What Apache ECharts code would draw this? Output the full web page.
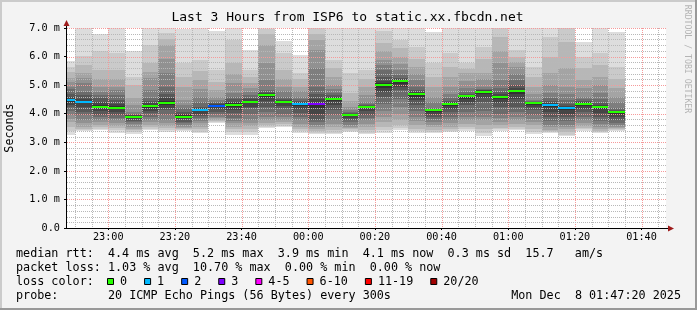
<!DOCTYPE html>
<html><head><meta charset="utf-8">
<script src="https://cdn.jsdelivr.net/npm/echarts@6/dist/echarts.min.js"></script>
<style>html,body{margin:0;padding:0;background:#f3f3f3}#c{width:697px;height:310px}</style>
</head><body><div id="c"></div>
<script>
// x values are minutes relative to 00:00 (Dec 8); each column is a 5-minute step starting at colStart
const colStart = [-75,-70,-65,-60,-55,-50,-45,-40,-35,-30,-25,-20,-15,-10,-5,0,5,10,15,20,25,30,35,40,45,50,55,60,65,70,75,80,85,90];
const medianRtt = [4.47,4.42,4.25,4.21,3.90,4.28,4.39,3.90,4.14,4.28,4.32,4.42,4.66,4.42,4.34,4.34,4.53,3.97,4.25,5.01,5.16,4.69,4.12,4.34,4.62,4.77,4.59,4.81,4.39,4.31,4.20,4.34,4.24,4.05];
const lossLevel = [1,1,0,0,0,0,0,0,1,2,0,0,0,0,1,3,0,0,0,0,0,0,0,0,0,0,0,0,0,1,1,0,0,0];
// 20 sorted ping rtts (ms) per column
const pings = [
 [3.26,3.4,3.55,3.7,3.8,3.95,4.1,4.22,4.3,4.4,4.52,4.6,4.7,4.85,4.95,5.1,5.24,5.45,5.65,5.85],
 [3.38,3.43,3.48,3.55,3.66,3.78,3.95,4.07,4.25,4.36,4.46,4.53,4.65,4.77,5.06,5.24,5.41,5.7,6.02,7.0],
 [3.43,3.48,3.55,3.62,3.7,3.78,3.87,3.95,4.1,4.2,4.3,4.4,4.54,4.65,4.77,4.95,5.2,5.53,6.2,6.8],
 [3.34,3.42,3.5,3.58,3.68,3.78,3.86,3.95,4.05,4.15,4.26,4.35,4.48,4.65,4.83,4.95,5.2,5.53,6.11,7.0],
 [3.29,3.35,3.42,3.48,3.55,3.63,3.72,3.76,3.82,3.87,3.92,3.94,3.96,4.0,4.07,4.3,4.54,5.0,5.3,6.2],
 [3.43,3.48,3.55,3.62,3.7,3.78,3.9,4.01,4.1,4.2,4.31,4.38,4.45,4.54,4.83,5.24,5.45,5.76,6.4,7.0],
 [3.37,3.42,3.5,3.58,3.68,3.78,3.95,4.13,4.2,4.3,4.45,4.55,4.7,4.95,5.41,5.9,6.4,6.6,6.81,7.0],
 [3.4,3.43,3.46,3.5,3.55,3.6,3.66,3.72,3.8,3.86,3.94,3.98,4.05,4.19,4.3,4.48,4.95,5.3,5.76,6.97],
 [3.31,3.37,3.45,3.55,3.66,3.75,3.84,3.92,4.0,4.08,4.16,4.2,4.25,4.4,4.6,4.85,5.18,5.5,5.88,7.0],
 [3.69,3.71,3.74,3.78,3.84,3.9,4.0,4.07,4.15,4.22,4.3,4.33,4.36,4.4,4.48,4.6,4.83,5.1,5.53,6.9],
 [3.26,3.35,3.45,3.55,3.66,3.75,3.85,4.01,4.12,4.25,4.36,4.42,4.5,4.6,4.71,5.06,5.4,5.76,6.58,7.0],
 [3.26,3.37,3.48,3.58,3.68,3.78,4.0,4.19,4.25,4.36,4.46,4.5,4.56,4.65,4.77,4.9,5.06,5.3,5.53,6.23],
 [3.49,3.53,3.6,3.68,3.78,3.9,4.05,4.25,4.45,4.6,4.69,4.72,4.76,4.83,5.18,5.76,6.4,6.8,6.95,7.0],
 [3.55,3.58,3.64,3.7,3.78,3.88,4.0,4.19,4.28,4.36,4.45,4.48,4.53,4.6,4.78,4.95,5.2,5.53,6.11,6.55],
 [3.34,3.39,3.46,3.55,3.65,3.78,3.9,4.01,4.15,4.28,4.37,4.4,4.44,4.5,4.6,4.78,4.95,5.2,5.41,6.05],
 [3.29,3.32,3.38,3.45,3.55,3.62,3.7,3.78,4.0,4.2,4.38,4.5,4.7,4.95,5.6,6.23,6.58,6.8,7.0,7.0],
 [3.29,3.34,3.42,3.52,3.65,3.78,3.95,4.13,4.3,4.45,4.56,4.6,4.64,4.72,4.85,5.0,5.3,5.6,5.88,7.0],
 [3.37,3.41,3.45,3.5,3.55,3.62,3.72,3.78,3.85,3.93,3.99,4.0,4.02,4.05,4.12,4.25,4.45,4.71,5.41,7.0],
 [3.29,3.34,3.42,3.52,3.65,3.78,3.86,3.95,4.08,4.19,4.27,4.28,4.3,4.34,4.42,4.65,4.95,5.2,5.53,7.0],
 [3.31,3.42,3.55,3.7,3.9,4.1,4.35,4.6,4.75,4.9,5.06,5.15,5.3,5.53,5.7,5.88,6.2,6.46,6.9,7.0],
 [3.43,3.5,3.6,3.78,4.0,4.25,4.5,4.83,4.95,5.05,5.18,5.2,5.25,5.35,5.53,5.75,6.0,6.3,6.58,7.0],
 [3.34,3.4,3.48,3.6,3.75,3.9,4.1,4.3,4.48,4.6,4.72,4.77,4.82,4.95,5.18,5.4,5.65,5.9,6.35,7.0],
 [3.31,3.36,3.43,3.52,3.62,3.72,3.81,3.9,3.98,4.06,4.14,4.15,4.16,4.19,4.4,4.6,4.95,5.3,5.76,6.85],
 [3.37,3.41,3.47,3.55,3.66,3.78,3.9,4.07,4.18,4.28,4.37,4.4,4.45,4.55,4.7,4.95,5.3,5.65,6.11,7.0],
 [3.41,3.46,3.55,3.65,3.78,3.9,4.05,4.3,4.4,4.52,4.65,4.67,4.7,4.75,4.89,5.15,5.41,5.55,5.76,7.0],
 [3.22,3.32,3.45,3.6,3.78,3.9,4.1,4.42,4.55,4.68,4.8,4.82,4.84,4.88,4.95,5.2,5.41,5.9,6.35,7.0],
 [3.41,3.45,3.5,3.6,3.72,3.85,4.0,4.25,4.38,4.5,4.63,4.68,4.75,4.9,5.18,5.76,6.2,6.7,7.0,7.0],
 [3.43,3.48,3.55,3.65,3.78,3.9,4.05,4.25,4.5,4.7,4.84,4.9,5.0,5.18,5.4,5.65,5.8,6.0,6.23,7.0],
 [3.29,3.37,3.48,3.6,3.72,3.83,3.95,4.13,4.22,4.3,4.4,4.41,4.42,4.44,4.48,4.7,4.95,5.3,5.65,7.0],
 [3.34,3.36,3.39,3.43,3.52,3.62,3.75,3.9,4.05,4.22,4.35,4.39,4.45,4.55,4.71,5.0,5.41,6.0,6.7,7.0],
 [3.22,3.27,3.35,3.45,3.55,3.62,3.75,3.9,4.0,4.12,4.24,4.28,4.35,4.48,4.7,4.95,5.6,6.5,7.0,7.0],
 [3.41,3.45,3.5,3.56,3.66,3.78,3.9,4.07,4.17,4.27,4.37,4.4,4.44,4.5,4.6,4.9,5.18,5.6,6.0,6.51],
 [3.34,3.36,3.4,3.46,3.55,3.63,3.75,3.9,4.02,4.15,4.27,4.31,4.38,4.5,4.71,5.0,5.3,5.7,6.11,7.0],
 [3.4,3.43,3.46,3.5,3.55,3.6,3.68,3.78,3.88,3.98,4.07,4.09,4.12,4.19,4.4,4.6,4.9,5.2,5.65,6.87]
];
const smokeGrays = ['#dddddd','#cacaca','#b7b7b7','#a4a4a4','#919191','#7e7e7e','#6b6b6b','#585858','#454545','#323232'];
const lossLabels = ['0','1','2','3','4-5','6-10','11-19','20/20'];
const lossColors = ['#26ff00','#00b8ff','#0059ff','#7e00ff','#ff00ff','#ff5500','#ff0000','#a10000'];
const xTickValues = [-60,-40,-20,0,20,40,60,80,100];
const xTickLabels = ['23:00','23:20','23:40','00:00','00:20','00:40','01:00','01:20','01:40'];
const xGridMinor = [-70,-65,-60,-55,-50,-45,-40,-35,-30,-25,-20,-15,-10,-5,0,5,10,15,20,25,30,35,40,45,50,55,60,65,70,75,80,85,90,95,100,105];
const yGridMinor = [0.2,0.4,0.6,0.8,1.2,1.4,1.6,1.8,2.2,2.4,2.6,2.8,3.2,3.4,3.6,3.8,4.2,4.4,4.6,4.8,5.2,5.4,5.6,5.8,6.2,6.4,6.6,6.8];
const xMin = -72 - 2/3, xMax = 107 + 1/3;
const titleText = 'Last 3 Hours from ISP6 to static.xx.fbcdn.net';
const legendRows = [
 'median rtt:  4.4 ms avg  5.2 ms max  3.9 ms min  4.1 ms now  0.3 ms sd  15.7   am/s',
 'packet loss: 1.03 % avg  10.70 % max  0.00 % min  0.00 % now',
 'loss color:',
 'probe:       20 ICMP Echo Pings (56 Bytes) every 300s'
];
const dateText = 'Mon Dec  8 01:47:20 2025';

const FONT = 'DejaVu Sans Mono';
const G = {left: 66, top: 28, width: 600, height: 200};
const MINOR = '#b8b8b8';
const MAJOR = '#f59a9a';
const chart = echarts.init(document.getElementById('c'), null, {renderer: 'canvas'});

function clipR(r, cs) {
  return echarts.graphic.clipRectByRect(r, {x: cs.x, y: cs.y, width: cs.width, height: cs.height});
}
function smokeItem(params, api) {
  const i = params.dataIndex;
  const t0 = api.value(0);
  const vals = pings[i];
  const children = [];
  for (let k = 0; k < 10; k++) {
    const a = api.coord([t0, vals[19 - k]]);
    const b = api.coord([t0 + 5, vals[k]]);
    const x1 = Math.round(a[0]), x2 = Math.round(b[0]);
    const y1 = Math.round(a[1]), y2 = Math.round(b[1]);
    const r = clipR({x: x1, y: y1, width: x2 - x1, height: y2 - y1}, params.coordSys);
    if (r) children.push({type: 'rect', shape: r, style: {fill: smokeGrays[k]}});
  }
  return {type: 'group', children};
}
function medianItem(params, api) {
  const i = params.dataIndex;
  const t0 = api.value(0);
  const a = api.coord([t0, api.value(1)]);
  const b = api.coord([t0 + 5, api.value(1)]);
  const x1 = Math.round(a[0]), x2 = Math.round(b[0]);
  const yc = Math.round(a[1]);
  const r = clipR({x: x1, y: yc - 1, width: x2 - x1, height: 2}, params.coordSys);
  if (!r) return null;
  return {type: 'rect', shape: r, style: {fill: lossColors[lossLevel[i]]}};
}
// dotted grid lines: each is a row of 1px dots
function dots(isVertical, pos, from, to, color) {
  const out = [];
  for (let p = from; p < to; p += 2) {
    out.push(isVertical ? {type: 'rect', shape: {x: pos, y: p, width: 1, height: 1}, style: {fill: color}}
                        : {type: 'rect', shape: {x: p, y: pos, width: 1, height: 1}, style: {fill: color}});
  }
  return out;
}
function vgridItem(params, api) {
  const t = api.value(0);
  const p = api.coord([t, 0]);
  const x = Math.round(p[0]);
  const major = xTickValues.indexOf(t) >= 0;
  const cs = params.coordSys;
  return {type: 'group', children: dots(true, x, cs.y, cs.y + cs.height, major ? MAJOR : MINOR)};
}
function hgridItem(params, api) {
  const v = api.value(1);
  const p = api.coord([xMin, v]);
  const y = Math.round(p[1]);
  const major = Math.abs(v - Math.round(v)) < 1e-6;
  const cs = params.coordSys;
  return {type: 'group', children: dots(false, y, cs.x + 1, cs.x + cs.width, major ? MAJOR : MINOR)};
}

const graphics = [];
graphics.push({type: 'rect', shape: {x: 0, y: 0, width: 697, height: 2}, style: {fill: '#cbcbcb'}, silent: true});
graphics.push({type: 'rect', shape: {x: 0, y: 0, width: 2, height: 310}, style: {fill: '#cbcbcb'}, silent: true});
graphics.push({type: 'rect', shape: {x: 0, y: 308, width: 697, height: 2}, style: {fill: '#999999'}, silent: true});
graphics.push({type: 'rect', shape: {x: 695, y: 0, width: 2, height: 310}, style: {fill: '#999999'}, silent: true});
graphics.push({type: 'text', x: 347.5, y: 18, style: {text: titleText, font: '13px "' + FONT + '"', fill: '#000', align: 'center', verticalAlign: 'middle'}});
graphics.push({type: 'text', x: 10, y: 128, rotation: Math.PI / 2, style: {text: 'Seconds', font: '11.7px "' + FONT + '"', fill: '#000', align: 'center', verticalAlign: 'middle'}});
graphics.push({type: 'text', x: 687.5, y: 59, rotation: -Math.PI / 2, style: {text: 'RRDTOOL / TOBI OETIKER', font: '8.2px "' + FONT + '"', fill: '#b4b4b4', align: 'center', verticalAlign: 'middle'}});
graphics.push({type: 'line', shape: {x1: G.left + 0.5, y1: G.top, x2: G.left + 0.5, y2: G.top - 3}, style: {stroke: '#000', lineWidth: 1}});
graphics.push({type: 'polygon', shape: {points: [[G.left + 0.5, G.top - 8], [G.left - 2.5, G.top - 2], [G.left + 3.5, G.top - 2]]}, style: {fill: '#9e1b1b'}});
graphics.push({type: 'line', shape: {x1: G.left + G.width, y1: G.top + G.height + 0.5, x2: G.left + G.width + 3, y2: G.top + G.height + 0.5}, style: {stroke: '#000', lineWidth: 1}});
graphics.push({type: 'polygon', shape: {points: [[G.left + G.width + 8, G.top + G.height + 0.5], [G.left + G.width + 2, G.top + G.height - 2.5], [G.left + G.width + 2, G.top + G.height + 3.5]]}, style: {fill: '#9e1b1b'}});
const rowY = [254, 268, 282, 296];
legendRows.forEach((t, i) => {
  graphics.push({type: 'text', x: 16, y: rowY[i], style: {text: t, font: '11.76px "' + FONT + '"', fill: '#000', align: 'left', verticalAlign: 'middle'}});
});
graphics.push({type: 'text', x: 681, y: rowY[3], style: {text: dateText, font: '11.76px "' + FONT + '"', fill: '#000', align: 'right', verticalAlign: 'middle'}});
let bx = 107;
lossLabels.forEach((lab, i) => {
  graphics.push({type: 'rect', shape: {x: bx + 0.5, y: 278.5, width: 6, height: 6}, style: {fill: lossColors[i], stroke: '#000', lineWidth: 1}});
  graphics.push({type: 'text', x: bx + 13, y: rowY[2], style: {text: lab, font: '11.76px "' + FONT + '"', fill: '#000', align: 'left', verticalAlign: 'middle'}});
  bx += 30 + 7.08 * lab.length;
});

const yGridAll = yGridMinor.concat([1,2,3,4,5,6,7]);
chart.setOption({
  animation: false,
  backgroundColor: '#f3f3f3',
  grid: {left: G.left, top: G.top, width: G.width, height: G.height, show: true, backgroundColor: '#ffffff', borderWidth: 0, containLabel: false},
  xAxis: {
    type: 'value', min: xMin, max: xMax, z: 6,
    axisLine: {show: true, onZero: false, lineStyle: {color: '#000', width: 1}},
    axisTick: {show: true, customValues: xTickValues, length: 2, lineStyle: {color: '#000'}},
    axisLabel: {show: true, customValues: xTickValues, margin: 4, color: '#000', fontFamily: FONT, fontSize: 10.2,
      formatter: v => { const k = xTickValues.indexOf(Math.round(v)); return k >= 0 ? xTickLabels[k] : ''; }},
    splitLine: {show: false}
  },
  yAxis: {
    type: 'value', min: 0, max: 7, interval: 1, z: 6,
    axisLine: {show: true, onZero: false, lineStyle: {color: '#000', width: 1}},
    axisTick: {show: true, length: 2, lineStyle: {color: '#000'}},
    axisLabel: {show: true, margin: 6, color: '#000', fontFamily: FONT, fontSize: 10.2,
      formatter: v => v === 0 ? '0.0' : v.toFixed(1) + ' m'},
    splitLine: {show: false}
  },
  series: [
    {type: 'custom', name: 'smoke', z: 2, renderItem: smokeItem, data: colStart.map((t, i) => [t, medianRtt[i]]), silent: true},
    {type: 'custom', name: 'vgrid', z: 3, renderItem: vgridItem, data: xGridMinor.map(t => [t, 0]), silent: true},
    {type: 'custom', name: 'hgrid', z: 3, renderItem: hgridItem, data: yGridAll.map(v => [xMin, v]), silent: true},
    {type: 'custom', name: 'median', z: 5, renderItem: medianItem, data: colStart.map((t, i) => [t, medianRtt[i]]), silent: true}
  ],
  graphic: graphics
});
</script></body></html>
